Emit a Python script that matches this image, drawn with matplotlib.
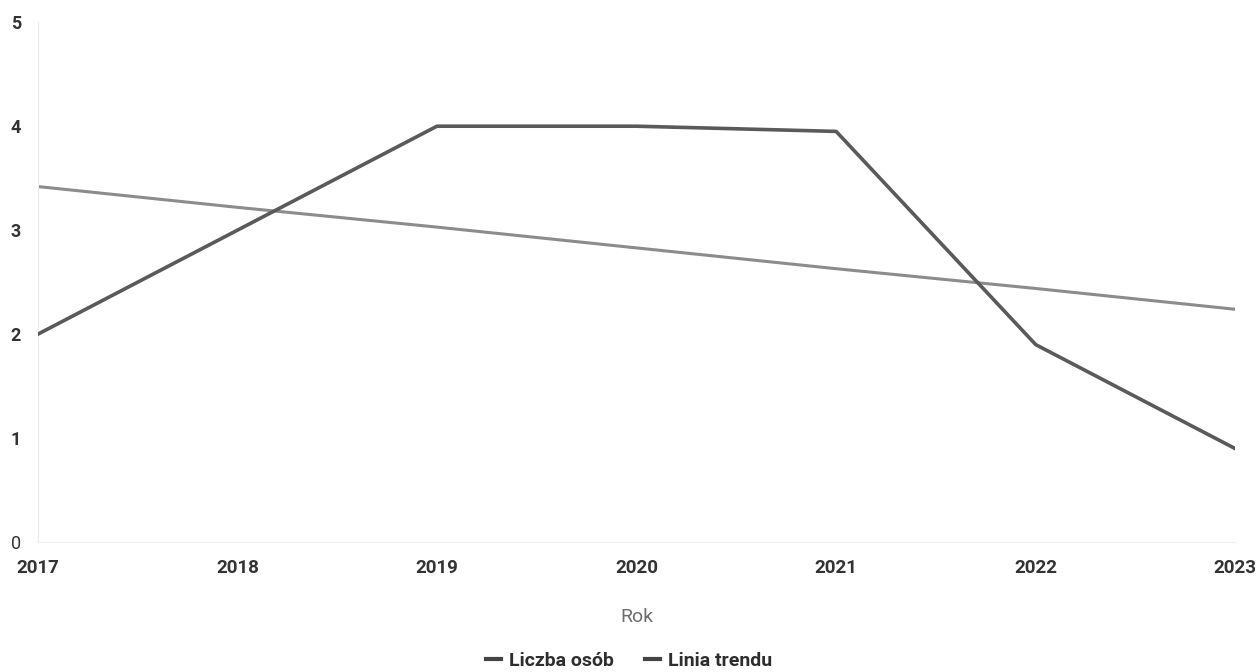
import matplotlib
matplotlib.use("Agg")
import matplotlib.pyplot as plt

# values
years = ["2017", "2018", "2019", "2020", "2021", "2022", "2023"]
liczba_osob = [2.0, 3.0, 4.0, 4.0, 3.95, 1.9, 0.9]
linia_trendu = [3.42, 3.22, 3.03, 2.83, 2.63, 2.44, 2.24]
y_ticks = [0, 1, 2, 3, 4, 5]

plt.rcParams["font.family"] = ["Roboto", "DejaVu Sans"]

fig = plt.figure(figsize=(12.58, 6.72), dpi=100)
ax = fig.add_axes([0.030, 0.193, 0.952, 0.774])

x = list(range(len(years)))
ax.plot(x, linia_trendu, color="#8c8c8c", lw=2.2, label="Linia trendu", zorder=2)
ax.plot(x, liczba_osob, color="#5a5a5a", lw=2.6, label="Liczba osób", zorder=3)

ax.set_xlim(0, len(years) - 1)
ax.set_ylim(0, 5)
ax.set_xticks(x)
ax.set_xticklabels(years, fontsize=13.5, fontweight="bold", color="#333333")
ax.set_yticks(y_ticks)
ax.set_yticklabels([str(v) for v in y_ticks], fontsize=13, fontweight="bold", color="#333333")
ax.get_yticklabels()[0].set_fontweight("normal")
ax.tick_params(axis="both", length=0)
ax.tick_params(axis="y", pad=12)
ax.tick_params(axis="x", pad=12)

for side in ("top", "right"):
    ax.spines[side].set_visible(False)
ax.spines["left"].set_color("#ececec")
ax.spines["bottom"].set_color("#f0f0f0")

ax.set_xlabel("Rok", fontsize=14, color="#6e6e6e", labelpad=22)

handles, labels = ax.get_legend_handles_labels()
leg = fig.legend(handles[::-1], labels[::-1], loc="center", bbox_to_anchor=(0.5, 0.016),
                 ncol=2, frameon=False, handlelength=0.8,
                 handletextpad=0.4, columnspacing=1.6,
                 prop={"weight": "bold", "size": 14})
for t in leg.get_texts():
    t.set_color("#2e2e2e")
for h in leg.legend_handles:
    h.set_color("#444444")
    h.set_linewidth(3)

fig.savefig("out.png", dpi=100, facecolor="white")
